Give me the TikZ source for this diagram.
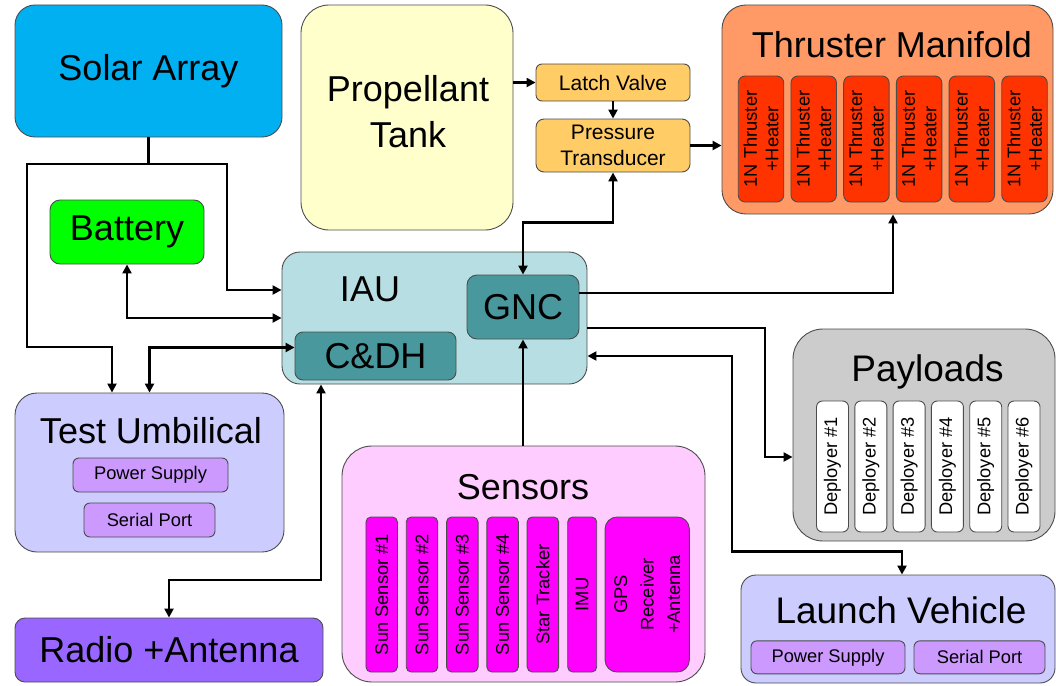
\documentclass[tikz,border=0pt]{standalone}
\usepackage{fontspec}
\setmainfont{Liberation Sans}
\usetikzlibrary{arrows.meta}
\definecolor{solar}{RGB}{0,176,240}
\definecolor{tank}{RGB}{255,255,204}
\definecolor{valve}{RGB}{255,204,102}
\definecolor{manifold}{RGB}{255,153,102}
\definecolor{thruster}{RGB}{255,51,0}
\definecolor{battery}{RGB}{0,255,0}
\definecolor{iau}{RGB}{183,223,227}
\definecolor{teal}{RGB}{72,152,158}
\definecolor{payload}{RGB}{204,204,204}
\definecolor{lilac}{RGB}{204,204,255}
\definecolor{port}{RGB}{204,153,255}
\definecolor{radio}{RGB}{153,102,255}
\definecolor{sensors}{RGB}{255,204,255}
\definecolor{magenta}{RGB}{255,0,255}

\begin{document}
\begin{tikzpicture}[x=1pt,y=-1pt,
  box/.style={draw=black!70, line width=0.9pt, rounded corners=#1, inner sep=0pt, align=center},
  box/.default=8pt,
  big/.style={font=\fontsize{36}{46}\selectfont},
  small/.style={font=\fontsize{18.3}{21.5}\selectfont},
  mid/.style={font=\fontsize{21}{25.5}\selectfont},
  wire/.style={line width=2.9pt},
  >={Triangle[length=9pt,width=9pt]}]
\useasboundingbox (0,0) rectangle (1056,685);

% power and propulsion
\node[box=20pt, fill=solar, big, minimum width=267pt, minimum height=132pt] (solar) at (148.5,71) {Solar Array};
\node[box=28pt, fill=tank, minimum width=212pt, minimum height=225pt] (tank) at (407,117.5) {};
\node[big, align=center] (tanklbl) at (408,112) {Propellant\\Tank};
\node[box=6pt, fill=valve, mid, minimum width=154pt, minimum height=37pt] (latch) at (613,82.5) {Latch Valve};
\node[box=8pt, fill=valve, mid, minimum width=154pt, minimum height=53pt] (pt) at (613,145.5) {Pressure\\Transducer};
\node[box=24pt, fill=manifold, minimum width=331pt, minimum height=209pt] (manifold) at (887.5,109.5) {};
\node[big, anchor=base] (manifoldlbl) at (892,57.5) {Thruster Manifold};
\foreach \i in {0,...,5}
  \node[box=7pt, fill=thruster, small, rotate=90, minimum width=126pt, minimum height=45.5pt] (thr\i) at (761+\i*52.7,139) {1N Thruster\\+Heater};
\node[box=10pt, fill=battery, big, minimum width=154pt, minimum height=64pt] (bat) at (127,232) {Battery};

% avionics
\node[box=18pt, fill=iau, minimum width=305pt, minimum height=132pt] (iau) at (434.5,318) {};
\node[big, anchor=base] (iaulbl) at (370,301) {IAU};
\node[box=10pt, fill=teal, big, minimum width=112pt, minimum height=64pt] (gnc) at (523,307) {GNC};
\node[box=8pt, fill=teal, big, minimum width=161pt, minimum height=48pt] (cdh) at (375.5,356) {C\&DH};

% ground and test
\node[box=22pt, fill=lilac, minimum width=269pt, minimum height=159pt] (umb) at (149.5,472.5) {};
\node[big, anchor=base] (umblbl) at (151,443) {Test Umbilical};
\node[box=6pt, fill=port, small, minimum width=155pt, minimum height=34pt] (umbpwr) at (150.5,475) {Power Supply};
\node[box=6pt, fill=port, small, minimum width=131pt, minimum height=34pt] (umbser) at (149.5,520) {Serial Port};
\node[box=10pt, fill=radio, big, minimum width=308pt, minimum height=64pt] (radio) at (169,650) {Radio +Antenna};

% sensors
\node[box=30pt, fill=sensors, minimum width=363pt, minimum height=236pt] (sensors) at (523.5,564) {};
\node[big, anchor=base] (sensorslbl) at (523,499) {Sensors};
\foreach \i in {1,...,4}
  \node[box=5pt, fill=magenta, small, rotate=90, minimum width=155pt, minimum height=31.5pt] (ss\i) at (341.4+\i*40.3,594.5) {Sun Sensor \#\i};
\node[box=5pt, fill=magenta, small, rotate=90, minimum width=155pt, minimum height=31.5pt] (star) at (542.9,594.5) {Star Tracker};
\node[box=5pt, fill=magenta, small, rotate=90, minimum width=155pt, minimum height=29pt] (imu) at (582.2,594.5) {IMU};
\node[box=12pt, fill=magenta, small, rotate=90, minimum width=155pt, minimum height=84.3pt, font=\fontsize{18.3}{26.5}\selectfont] (gps) at (647.2,594.5) {GPS\\Receiver\\+Antenna};

% payloads and launcher
\node[box=30pt, fill=payload, minimum width=262pt, minimum height=212pt] (payloads) at (924,435) {};
\node[big, anchor=base, font=\fontsize{37}{46}\selectfont] (payloadslbl) at (927.5,381) {Payloads};
\foreach \i in {1,...,6}
  \node[box=6pt, fill=white, small, rotate=90, minimum width=131pt, minimum height=32pt] (dep\i) at (794.2+\i*38.3,466.5) {Deployer \#\i};
\node[box=15pt, fill=lilac, minimum width=314pt, minimum height=108pt] (lv) at (898,629) {};
\node[big, anchor=base, font=\fontsize{37}{46}\selectfont] (lvlbl) at (901,623) {Launch Vehicle};
\node[box=6pt, fill=port, small, minimum width=154pt, minimum height=33pt] (lvpwr) at (828,657.3) {Power Supply};
\node[box=6pt, fill=port, small, minimum width=131pt, minimum height=33pt] (lvser) at (979.5,657.3) {Serial Port};

% connections
\draw[wire] (solar.south) -- (solar.south |- 0,164) coordinate (split);
\draw[wire,->] (split) -| (27,347) -| ([xshift=-37.5pt]umb.north);
\draw[wire,->] (split) -| (227,290) -- (iau.west |- 0,290);
\draw[wire,<->] (bat.south) |- (iau.west |- 0,318);
\draw[wire,<->] ([yshift=8.5pt]cdh.west) -| (umb.north);
\draw[wire,<->] (gnc.north) -- (523,222.7) -| (pt.south);
\draw[wire,->] (tank.east |- latch.west) -- (latch.west);
\draw[wire,->] (latch.south) -- (pt.north);
\draw[wire,->] (pt.east) -- (pt.east -| manifold.west);
\draw[wire,->] ([yshift=14pt]gnc.east) -| ([xshift=5.5pt]manifold.south);
\draw[wire,->] ([yshift=-10pt]iau.east) -| (765,457) -- (payloads.west |- 0,457);
\draw[wire,<->] ([yshift=-38pt]iau.east) -| (732,551.7) -| ([xshift=4pt]lv.north);
\draw[wire,->] (gnc.south |- sensors.north) -- (gnc.south);
\draw[wire,<->] (iau.south -| 321,0) -- (321,580) -| (radio.north);
\end{tikzpicture}
\end{document}
